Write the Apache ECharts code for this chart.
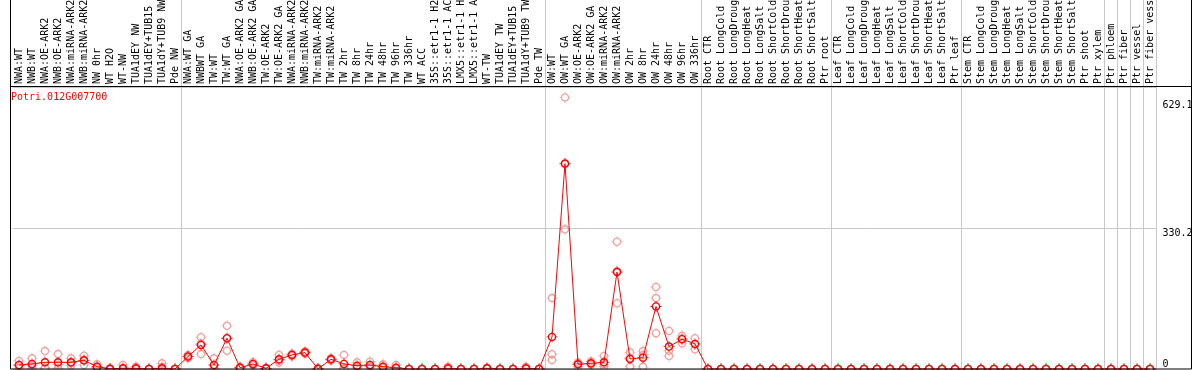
<!DOCTYPE html>
<html>
<head>
<meta charset="utf-8">
<script src="https://cdn.jsdelivr.net/npm/echarts@6/dist/echarts.min.js"></script>
<style>
  html, body { margin: 0; padding: 0; background: #fff; }
  #chart { width: 1194px; height: 370px; }
</style>
</head>
<body>
<div id="chart"></div>
<script>
var geneName = 'Potri.012G007700';

var categories = [
  'NWA:WT', 'NWB:WT', 'NWA:OE-ARK2', 'NWB:OE-ARK2', 'NWA:miRNA-ARK2', 'NWB:miRNA-ARK2',
  'NW 0hr', 'WT H2O', 'WT-NW', 'TUA1dEY NW', 'TUA1dEY+TUB15 NW', 'TUA1dY+TUB9 NW', 'Pde NW',
  'NWA:WT GA', 'NWBWT GA', 'TW:WT', 'TW:WT GA', 'NWA:OE-ARK2 GA', 'NWB:OE-ARK2 GA',
  'TW:OE-ARK2', 'TW:OE-ARK2 GA', 'NWA:miRNA-ARK2 GA', 'NWB:miRNA-ARK2 GA', 'TW:miRNA-ARK2',
  'TW:miRNA-ARK2 GA', 'TW 2hr', 'TW 8hr', 'TW 24hr', 'TW 48hr', 'TW 96hr', 'TW 336hr',
  'WT ACC', '35S::etr1-1 H2O', '35S::etr1-1 ACC', 'LMX5::etr1-1 H2O', 'LMX5::etr1-1 ACC',
  'WT-TW', 'TUA1dEY TW', 'TUA1dEY+TUB15 TW', 'TUA1dY+TUB9 TW', 'Pde TW',
  'OW:WT', 'OW:WT GA', 'OW:OE-ARK2', 'OW:OE-ARK2 GA', 'OW:miRNA-ARK2', 'OW:miRNA-ARK2 GA',
  'OW 2hr', 'OW 8hr', 'OW 24hr', 'OW 48hr', 'OW 96hr', 'OW 336hr',
  'Root CTR', 'Root LongCold', 'Root LongDrought', 'Root LongHeat', 'Root LongSalt',
  'Root ShortCold', 'Root ShortDrought', 'Root ShortHeat', 'Root ShortSalt', 'Ptr root',
  'Leaf CTR', 'Leaf LongCold', 'Leaf LongDrought', 'Leaf LongHeat', 'Leaf LongSalt',
  'Leaf ShortCold', 'Leaf ShortDrought', 'Leaf ShortHeat', 'Leaf ShortSalt', 'Ptr leaf',
  'Stem CTR', 'Stem LongCold', 'Stem LongDrought', 'Stem LongHeat', 'Stem LongSalt',
  'Stem ShortCold', 'Stem ShortDrought', 'Stem ShortHeat', 'Stem ShortSalt', 'Ptr shoot',
  'Ptr xylem', 'Ptr phloem', 'Ptr fiber', 'Ptr vessel', 'Ptr fiber vessel'
];

// group boundaries (index of first category of each new group)
var groupStarts = [13, 41, 53, 63, 73, 84, 85, 86, 87];

var meanValues = [
  9.4, 11.8, 15.7, 15.7, 15.7, 20.4, 5.5, 0.5, 1.6, 1.6, 0, 1.6, 0,
  29, 56.4, 9.4, 72, 3, 11.8, 1.6, 22.7, 33, 38.4, 0.5, 22.7, 11.8, 7.8,
  9.4, 5.5, 3, 0, 0, 0, 1.6, 0, 0, 1.6, 0, 0, 1.6, 0,
  75, 481, 11, 13.3, 15.7, 227, 23.5, 26.6, 146.4, 52.4, 69.8, 58.8,
  0, 0, 0, 0, 0, 0, 0, 0, 0, 0,
  0, 0, 0, 0, 0, 0, 0, 0, 0, 0,
  0, 0, 0, 0, 0, 0, 0, 0, 0, 0,
  0, 0, 0, 0, 0
];

var rep1 = [
  18.8, 25, 42, 35, 25, 31, 11, 0.5, 9.4, 5.5, 0, 13.3, 0,
  33, 74.4, 25, 101, 5, 9, 1.6, 33, 33, 38.4, 0.5, 22.7, 33, 15.7,
  17, 11, 9.4, 0, 0, 0, 5.5, 0, 0, 3, 0, 0, 5.5, 0,
  166, 636, 5, 18, 30.5, 298, 39, 42, 192, 89, 77.6, 72,
  0, 0, 0, 0, 0, 0, 0, 0, 0, 0,
  0, 0, 0, 0, 0, 0, 0, 0, 0, 0,
  0, 0, 0, 0, 0, 0, 0, 0, 0, 0,
  0, 0, 0, 0, 0
];

var rep2 = [
  2, 2, 2, 2, 8, 9.4, 2, 0.5, 0, 0, 0, 5, 0,
  25, 35, 2, 43, 1, 10, 1, 15, 30, 36, 0.5, 20, 2, 5,
  6, 3, 0, 0, 0, 0, 0, 0, 0, 1, 0, 0, 0, 0,
  34.5, 327, 15, 10, 5.5, 154, 5.5, 5, 166, 43, 60.4, 46,
  0, 0, 0, 0, 0, 0, 0, 0, 0, 0,
  0, 0, 0, 0, 0, 0, 0, 0, 0, 0,
  0, 0, 0, 0, 0, 0, 0, 0, 0, 0,
  0, 0, 0, 0, 0
];

var rep3 = [
  7.4, 8, 3, 10, 14, 21, 3.5, 0.5, 0, 0, 0, 0, 0,
  29, 60, 1, 72, 3, 16, 2, 20, 36, 41, 0.5, 25, 0.4, 2.7,
  5, 2.5, 0, 0, 0, 0, 0, 0, 0, 1, 0, 0, 0, 0,
  21, 480, 13, 12, 11, 229, 26, 33, 84, 30.5, 71, 58,
  0, 0, 0, 0, 0, 0, 0, 0, 0, 0,
  0, 0, 0, 0, 0, 0, 0, 0, 0, 0,
  0, 0, 0, 0, 0, 0, 0, 0, 0, 0,
  0, 0, 0, 0, 0
];

var yMax = 660.4;
var yMid = 330.2;
var yPeak = 629.1;

// ring (outer clockwise, inner counter-clockwise -> hole) with four tiny ticks
var marker = 'path://' +
  'M2.5,11C2.5,6.31 6.31,2.5 11,2.5C15.69,2.5 19.5,6.31 19.5,11C19.5,15.69 15.69,19.5 11,19.5C6.31,19.5 2.5,15.69 2.5,11Z' +
  'M5.2,11C5.2,14.2 7.8,16.8 11,16.8C14.2,16.8 16.8,14.2 16.8,11C16.8,7.8 14.2,5.2 11,5.2C7.8,5.2 5.2,7.8 5.2,11Z' +
  'M10.2,0H11.8V2.6H10.2Z M10.2,19.4H11.8V22H10.2Z M0,10.2H2.6V11.8H0Z M19.4,10.2H22V11.8H19.4Z';

var mono = 'DejaVu Sans Mono';
var gray = '#c8c8c8';

function isGroupStart(i) {
  return groupStarts.indexOf(i) >= 0;
}

var chart = echarts.init(document.getElementById('chart'));

var option = {
  animation: false,
  backgroundColor: '#fff',
  title: {
    text: geneName,
    left: 11,
    top: 92,
    padding: 0,
    textStyle: { color: '#ff0000', fontSize: 10, fontWeight: 'normal', fontFamily: mono }
  },
  grid: [
    { left: 12.5, right: 37.5, top: 0, height: 86, outerBoundsMode: 'none' },
    { left: 12.5, right: 37.5, top: 87, bottom: 1, outerBoundsMode: 'none' }
  ],
  xAxis: [
    {
      gridIndex: 0,
      type: 'category',
      data: categories,
      axisLine: { show: false },
      axisTick: { show: false },
      axisLabel: { show: false },
      splitLine: { show: true, interval: isGroupStart, lineStyle: { color: gray, width: 1 } }
    },
    {
      gridIndex: 1,
      type: 'category',
      position: 'top',
      data: categories,
      axisLine: { show: false },
      axisTick: { show: false },
      axisLabel: {
        interval: 0,
        rotate: 90,
        margin: 3,
        color: '#000',
        fontSize: 10,
        fontFamily: mono
      },
      splitLine: { show: true, interval: isGroupStart, lineStyle: { color: gray, width: 1 } }
    }
  ],
  yAxis: [
    {
      gridIndex: 0,
      type: 'value',
      position: 'right',
      axisLine: { show: true, lineStyle: { color: gray } },
      axisTick: { show: false },
      axisLabel: { show: false },
      splitLine: { show: false }
    },
    {
      gridIndex: 1,
      type: 'value',
      position: 'right',
      min: 0,
      max: yMax,
      interval: yMid,
      axisLine: { show: true, lineStyle: { color: gray } },
      axisTick: { show: false },
      axisLabel: {
        customValues: [yMid, yPeak],
        verticalAlign: 'top',
        margin: 6,
        color: '#000',
        fontSize: 10,
        fontFamily: mono
      },
      splitLine: { show: true, lineStyle: { color: gray, width: 1 } }
    },
    {
      gridIndex: 1,
      type: 'value',
      position: 'right',
      min: 0,
      max: yMax,
      axisLine: { show: false },
      axisTick: { show: false },
      axisLabel: {
        customValues: [0],
        verticalAlign: 'bottom',
        margin: 6,
        color: '#000',
        fontSize: 10,
        fontFamily: mono
      },
      splitLine: { show: false }
    }
  ],
  graphic: [
    {
      type: 'rect',
      z: 100,
      silent: true,
      shape: { x: 10.5, y: -1, width: 1181, height: 370 },
      style: { fill: 'none', stroke: '#000', lineWidth: 1 }
    },
    {
      type: 'line',
      z: 100,
      silent: true,
      shape: { x1: 10, y1: 86.5, x2: 1192, y2: 86.5 },
      style: { stroke: '#000', lineWidth: 1 }
    }
  ],
  series: [
    {
      name: 'rep1', type: 'scatter', xAxisIndex: 1, yAxisIndex: 1, data: rep1,
      symbol: marker, symbolSize: 11, z: 2,
      itemStyle: { color: '#ec8c8c' }
    },
    {
      name: 'rep2', type: 'scatter', xAxisIndex: 1, yAxisIndex: 1, data: rep2,
      symbol: marker, symbolSize: 11, z: 2,
      itemStyle: { color: '#ec8c8c' }
    },
    {
      name: 'rep3', type: 'scatter', xAxisIndex: 1, yAxisIndex: 1, data: rep3,
      symbol: marker, symbolSize: 11, z: 2,
      itemStyle: { color: '#ec8c8c' }
    },
    {
      name: 'mean', type: 'line', xAxisIndex: 1, yAxisIndex: 1, data: meanValues,
      symbol: marker, symbolSize: 11, showAllSymbol: true, z: 3,
      itemStyle: { color: '#ff0000' },
      lineStyle: { color: '#ff0000', width: 1 }
    }
  ]
};

chart.setOption(option);
</script>
</body>
</html>
